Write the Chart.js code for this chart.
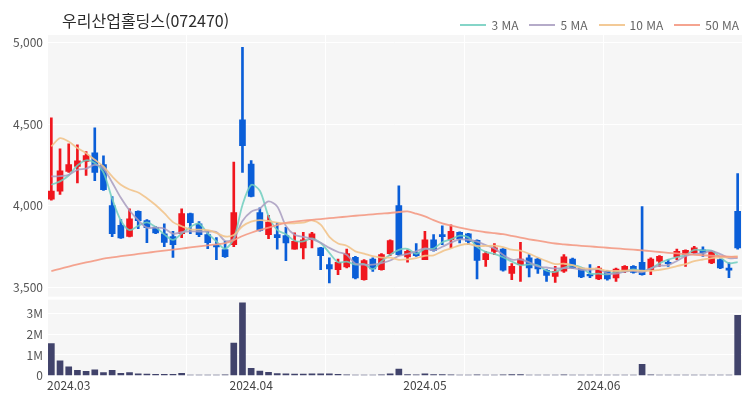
<!DOCTYPE html>
<html lang="ko">
<head>
<meta charset="UTF-8" />
<title>우리산업홀딩스(072470)</title>
<script src="https://cdn.jsdelivr.net/npm/chart.js"></script>
<style>
  body { margin: 0; background: #fff; font-family: "Noto Sans CJK KR", "Noto Sans", sans-serif; }
  #wrap { position: relative; width: 750px; height: 400px; }
  #title { position: absolute; left: 62px; top: 8px; font-size: 16px; color: #2b2b2b; }
  #legend { position: absolute; right: 11px; top: 16px; display: flex; font-size: 12px; color: #666; }
  #legend span { display: flex; align-items: center; margin-left: 11px; }
  #legend i { display: inline-block; width: 26px; height: 2px; margin-right: 5px; }
  canvas { position: absolute; left: 0; top: 0; }
</style>
</head>
<body>
<div id="wrap">
  <canvas id="chart" width="750" height="400"></canvas>
  <div id="title">우리산업홀딩스(072470)</div>
  <div id="legend"></div>
</div>
<script>
// daily candles, 2024-02-28 .. 2024-06-27 (80 sessions)
const opens = [4040,4090,4211,4241,4272,4325,4252,4002,3880,3813,3966,3909,3868,3829,3811,3829,3952,3890,3823,3758,
  3732,3762,4527,4256,3958,3823,3823,3817,3735,3742,3792,3742,3640,3609,3626,3684,3548,3674,3609,3707,
  4001,3687,3713,3670,3792,3823,3792,3837,3829,3789,3670,3721,3735,3585,3640,3681,3674,3605,3568,3599,
  3674,3619,3580,3552,3599,3558,3599,3629,3654,3609,3660,3654,3687,3701,3713,3731,3650,3670,3619,3966];
const highs = [4540,4350,4380,4374,4333,4478,4307,4057,3915,3982,3970,3915,3872,3890,3843,3982,3955,3904,3847,3805,
  3782,4268,4972,4278,3988,3941,3897,3868,3834,3837,3837,3745,3681,3674,3735,3690,3670,3681,3707,3792,
  4123,3731,3768,3843,3823,3878,3884,3840,3832,3792,3721,3768,3738,3646,3776,3701,3680,3609,3629,3701,
  3680,3622,3640,3629,3605,3619,3633,3633,3996,3681,3695,3670,3735,3731,3752,3748,3723,3675,3650,4197];
const lows = [4035,4070,4205,4141,4186,4154,4095,3811,3800,3810,3860,3774,3830,3750,3683,3805,3829,3811,3737,3670,
  3683,3750,4204,4055,3845,3799,3735,3664,3735,3674,3742,3609,3527,3578,3619,3552,3545,3598,3605,3695,
  3695,3654,3690,3670,3722,3762,3742,3772,3762,3552,3629,3701,3600,3548,3537,3564,3585,3537,3531,3592,
  3615,3560,3560,3548,3545,3537,3590,3587,3575,3578,3629,3629,3670,3629,3707,3690,3645,3615,3559,3735];
const closes = [4090,4215,4252,4276,4308,4204,4099,3829,3803,3921,3909,3866,3834,3776,3762,3952,3897,3823,3774,3748,
  3689,3958,4368,4058,3849,3901,3805,3772,3782,3792,3829,3695,3613,3654,3707,3558,3664,3613,3701,3787,
  3701,3721,3695,3792,3727,3811,3843,3797,3782,3666,3707,3742,3605,3629,3674,3619,3613,3573,3599,3687,
  3619,3564,3570,3619,3552,3613,3629,3592,3578,3674,3690,3646,3721,3727,3742,3711,3721,3619,3605,3742];
// volume in millions of shares
const volumes = [1.55,0.72,0.43,0.26,0.21,0.28,0.15,0.26,0.11,0.15,0.08,0.07,0.06,0.06,0.06,0.11,0.03,0.03,0.03,0.03,
  0.04,1.58,3.52,0.35,0.22,0.16,0.10,0.09,0.07,0.07,0.08,0.08,0.08,0.06,0.04,0.03,0.03,0.03,0.04,0.08,
  0.32,0.05,0.04,0.09,0.05,0.05,0.04,0.03,0.02,0.04,0.03,0.03,0.04,0.05,0.05,0.03,0.03,0.03,0.03,0.04,
  0.02,0.02,0.03,0.02,0.02,0.02,0.02,0.03,0.55,0.04,0.02,0.02,0.02,0.02,0.03,0.02,0.02,0.02,0.03,2.92];

// moving averages as drawn on the chart
const ma3 = [4129,4150,4186,4248,4279,4263,4204,4044,3910,3851,3878,3899,3870,3825,3791,3830,3870,3891,3831,3782,
  3737,3798,4005,4128,4092,3936,3852,3826,3786,3782,3801,3772,3712,3654,3658,3640,3643,3612,3659,3700,
  3730,3736,3706,3736,3738,3777,3794,3817,3807,3748,3718,3705,3685,3659,3636,3641,3635,3602,3595,3620,
  3635,3623,3584,3584,3580,3595,3598,3611,3600,3615,3647,3670,3686,3698,3730,3727,3725,3684,3648,3655];
const ma5 = [4180,4182,4190,4220,4228,4251,4228,4143,4049,3971,3912,3866,3867,3861,3829,3838,3844,3842,3842,3839,
  3786,3798,3907,3964,3984,4027,3996,3877,3822,3810,3796,3774,3742,3717,3700,3645,3639,3639,3649,3665,
  3693,3705,3721,3739,3727,3749,3774,3794,3792,3780,3759,3739,3700,3670,3671,3654,3628,3622,3616,3618,
  3618,3608,3608,3612,3585,3584,3597,3601,3593,3617,3633,3636,3662,3692,3705,3709,3724,3704,3680,3680];
const ma10 = [4364,4415,4394,4354,4323,4282,4241,4180,4129,4100,4082,4047,4005,3955,3900,3875,3855,3854,3851,3834,
  3812,3821,3875,3903,3912,3907,3897,3892,3893,3897,3911,3885,3810,3769,3755,3721,3707,3691,3683,3682,
  3669,3672,3680,3694,3696,3721,3739,3758,3766,3754,3754,3756,3747,3731,3726,3706,3683,3661,3643,3645,
  3636,3618,3615,3614,3602,3601,3603,3604,3602,3601,3608,3616,3631,3642,3661,3671,3680,3683,3686,3692];
const ma50 = [3600,3614,3628,3641,3653,3664,3676,3684,3691,3698,3705,3712,3719,3726,3732,3738,3745,3752,3758,3764,
  3771,3790,3815,3835,3852,3867,3882,3896,3903,3909,3914,3919,3924,3929,3934,3939,3943,3948,3952,3956,
  3962,3966,3952,3935,3912,3892,3878,3866,3855,3846,3838,3832,3826,3816,3805,3795,3786,3777,3769,3764,
  3759,3755,3751,3747,3743,3739,3735,3731,3727,3722,3717,3712,3708,3704,3700,3697,3694,3691,3688,3685];

const tickIdx = [2, 23, 43, 63];
const tickText = ["2024.03", "2024.04", "2024.05", "2024.06"];
const priceTicks = [3500, 4000, 4500, 5000];
const volTicks = [0, 1, 2, 3];

const maNames = ["3 MA", "5 MA", "10 MA", "50 MA"];
const maColors = ["rgba(112,206,190,0.85)", "rgba(168,156,192,0.85)", "rgba(242,196,140,0.9)", "rgba(244,154,132,0.9)"];

const UP = "#f0161e", DOWN = "#0a5ed8";
const candleColors = closes.map((c, i) => (c >= opens[i] ? UP : DOWN));
const labels = closes.map((_, i) => i);

const legendBox = document.getElementById("legend");
maNames.forEach((name, i) => {
  const s = document.createElement("span");
  s.innerHTML = `<i style="background:${maColors[i]}"></i>${name}`;
  legendBox.appendChild(s);
});

const plotBg = {
  id: "plotBg",
  beforeDraw(chart) {
    const { ctx, chartArea, scales } = chart;
    ctx.save();
    ctx.fillStyle = "#f6f6f6";
    ctx.fillRect(chartArea.left, scales.y.top, chartArea.width, scales.y.bottom - scales.y.top);
    ctx.fillRect(chartArea.left, scales.yv.top + 3, chartArea.width, scales.yv.bottom - scales.yv.top - 3);
    ctx.restore();
  },
};

Chart.defaults.font.family = '"Noto Sans CJK KR", "Noto Sans", sans-serif';
Chart.defaults.font.size = 12;
Chart.defaults.color = "#555";

const maSets = [ma3, ma5, ma10, ma50].map((d, i) => ({
  type: "line",
  label: maNames[i],
  data: d,
  yAxisID: "y",
  borderColor: maColors[i],
  borderWidth: 1.8,
  pointRadius: 0,
  tension: 0.3,
  order: 4 - i,
}));

new Chart(document.getElementById("chart"), {
  data: {
    labels: labels,
    datasets: [
      ...maSets,
      {
        type: "bar",
        label: "wick",
        data: lows.map((l, i) => [l, highs[i]]),
        yAxisID: "y",
        backgroundColor: candleColors,
        barThickness: 2,
        grouped: false,
        order: 11,
      },
      {
        type: "bar",
        label: "body",
        data: opens.map((o, i) => [o, closes[i]]),
        yAxisID: "y",
        backgroundColor: candleColors,
        barThickness: 6,
        minBarLength: 1,
        grouped: false,
        order: 10,
      },
      {
        type: "bar",
        label: "volume",
        data: volumes,
        yAxisID: "yv",
        backgroundColor: "#41436b",
        barThickness: 6,
        grouped: false,
        order: 12,
      },
    ],
  },
  options: {
    responsive: false,
    animation: false,
    layout: { padding: { top: 35, right: 8, bottom: 4, left: 0 } },
    plugins: { legend: { display: false }, tooltip: { enabled: false } },
    scales: {
      x: {
        type: "category",
        offset: true,
        border: { display: false },
        grid: {
          color: (c) => (c.index % 16 === 0 ? "#ffffff" : "rgba(0,0,0,0)"),
          drawTicks: false,
        },
        ticks: {
          autoSkip: false,
          maxRotation: 0,
          padding: 3,
          color: "#444",
          callback: (v, i) => {
            const k = tickIdx.indexOf(i);
            return k >= 0 ? tickText[k] : "";
          },
        },
      },
      y: {
        position: "left",
        stack: "panes",
        stackWeight: 262,
        weight: 2,
        min: 3443,
        max: 5047,
        border: { display: false },
        grid: { color: "#ffffff", drawTicks: false },
        afterBuildTicks: (axis) => { axis.ticks = priceTicks.map((v) => ({ value: v })); },
        afterFit: (axis) => { axis.width = 47; },
        ticks: { autoSkip: false, padding: 4, callback: (v) => v.toLocaleString("en-US") },
      },
      yv: {
        position: "left",
        stack: "panes",
        stackWeight: 79,
        weight: 1,
        min: 0,
        max: 3.82,
        border: { display: false },
        grid: { color: "#ffffff", drawTicks: false },
        afterBuildTicks: (axis) => { axis.ticks = volTicks.map((v) => ({ value: v })); },
        afterFit: (axis) => { axis.width = 47; },
        ticks: { autoSkip: false, padding: 4, callback: (v) => (v === 0 ? "0" : v + "M") },
      },
    },
  },
  plugins: [plotBg],
});
</script>
</body>
</html>
